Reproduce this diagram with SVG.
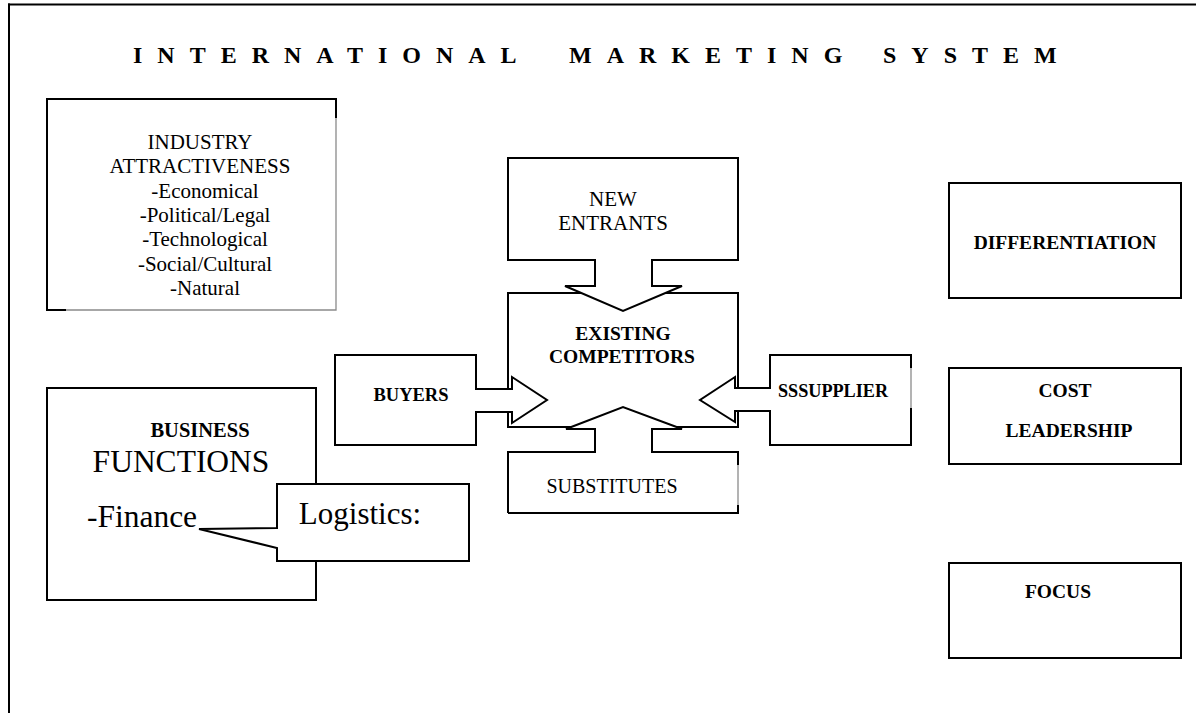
<svg xmlns="http://www.w3.org/2000/svg" width="1196" height="713" viewBox="0 0 1196 713">
<style>
text{font-family:"Liberation Serif","Times New Roman",serif;fill:#000;text-anchor:middle}
.b{font-weight:bold}
.shape{fill:#fff;stroke:#000;stroke-width:2;stroke-linejoin:miter}
.line{stroke:#000;stroke-width:2;fill:none}
.grey{stroke:#8a8a8a;stroke-width:1.3;fill:none}
.title{font-weight:bold;font-size:24px;letter-spacing:15px;text-anchor:start}
</style>
<rect width="1196" height="713" fill="#fff"/>
<g id="frame">
<line class="line" x1="8" y1="4.5" x2="1196" y2="4.5" stroke-width="2.5"/>
<line class="line" x1="9" y1="3.5" x2="9" y2="713" stroke-width="2.5"/>
</g>
<g id="title">
<text class="title" x="133" y="63">INTERNATIONAL</text>
<text class="title" x="569" y="63">MARKETING</text>
<text class="title" x="883" y="63">SYSTEM</text>
</g>
<g id="industry">
<rect x="47" y="99" width="289" height="211" fill="#fff"/>
<path class="line" d="M66,310 H47 V99 H336 V118"/>
<path class="grey" d="M336,118 V310 H66"/>
<g font-size="21">
<text x="200" y="149">INDUSTRY</text>
<text x="200" y="173">ATTRACTIVENESS</text>
<text x="205" y="198">-Economical</text>
<text x="205" y="222">-Political/Legal</text>
<text x="205" y="246">-Technological</text>
<text x="205" y="271">-Social/Cultural</text>
<text x="205" y="295">-Natural</text>
</g>
</g>
<g id="competitors">
<rect class="shape" x="508" y="293" width="230" height="134"/>
</g>
<g id="new-entrants">
<path class="shape" d="M508,158 H738 V260 H652 V286 H682 L623,311 L565,286 H595 V260 H508 Z"/>
<text x="613" y="206" font-size="21">NEW</text>
<text x="613" y="230" font-size="21">ENTRANTS</text>
</g>
<g id="substitutes">
<path class="shape" d="M508,513 V452 H595 V429 H566 L623,407 L682,429 H652 V452 H738 V465"/>
<path class="line" d="M738,505 V513 H508"/>
<path class="grey" d="M738,465 V505"/>
<text x="612" y="493" font-size="20">SUBSTITUTES</text>
</g>
<g id="buyers">
<path class="shape" d="M335,355 H476 V389 H512 V377 L547,400 L512,423 V412 H476 V445 H335 Z"/>
<text class="b" x="411" y="401" font-size="18.5">BUYERS</text>
</g>
<g id="supplier">
<path class="shape" d="M911,368 V355 H770 V388 H735 V377 L700,400 L735,422 V411 H770 V445 H911 V408"/>
<path class="grey" d="M911,368 V408"/>
<text class="b" x="833" y="397" font-size="18.2">SSSUPPLIER</text>
</g>
<g id="competitors-label">
<text class="b" x="623" y="340" font-size="19.5">EXISTING</text>
<text class="b" x="622" y="363" font-size="19.5">COMPETITORS</text>
</g>
<g id="business">
<rect class="shape" x="47" y="388" width="269" height="212"/>
<text class="b" x="200" y="437" font-size="20.5">BUSINESS</text>
<text x="181" y="472" font-size="31.5">FUNCTIONS</text>
<text x="142" y="527" font-size="31.5">-Finance</text>
</g>
<g id="logistics">
<path class="shape" d="M277,484 H469 V561 H277 V548 L199,529 L277,528 Z"/>
<text x="360" y="524" font-size="31">Logistics:</text>
</g>
<g id="differentiation">
<rect class="shape" x="949" y="183" width="232" height="115"/>
<text class="b" x="1065" y="249" font-size="19.5">DIFFERENTIATION</text>
</g>
<g id="cost-leadership">
<rect class="shape" x="949" y="368" width="232" height="96"/>
<text class="b" x="1065" y="397" font-size="19.5">COST</text>
<text class="b" x="1069" y="437" font-size="19.5">LEADERSHIP</text>
</g>
<g id="focus">
<rect class="shape" x="949" y="563" width="232" height="95"/>
<text class="b" x="1058" y="598" font-size="19.5">FOCUS</text>
</g>
<g id="connectors"></g>
</svg>
